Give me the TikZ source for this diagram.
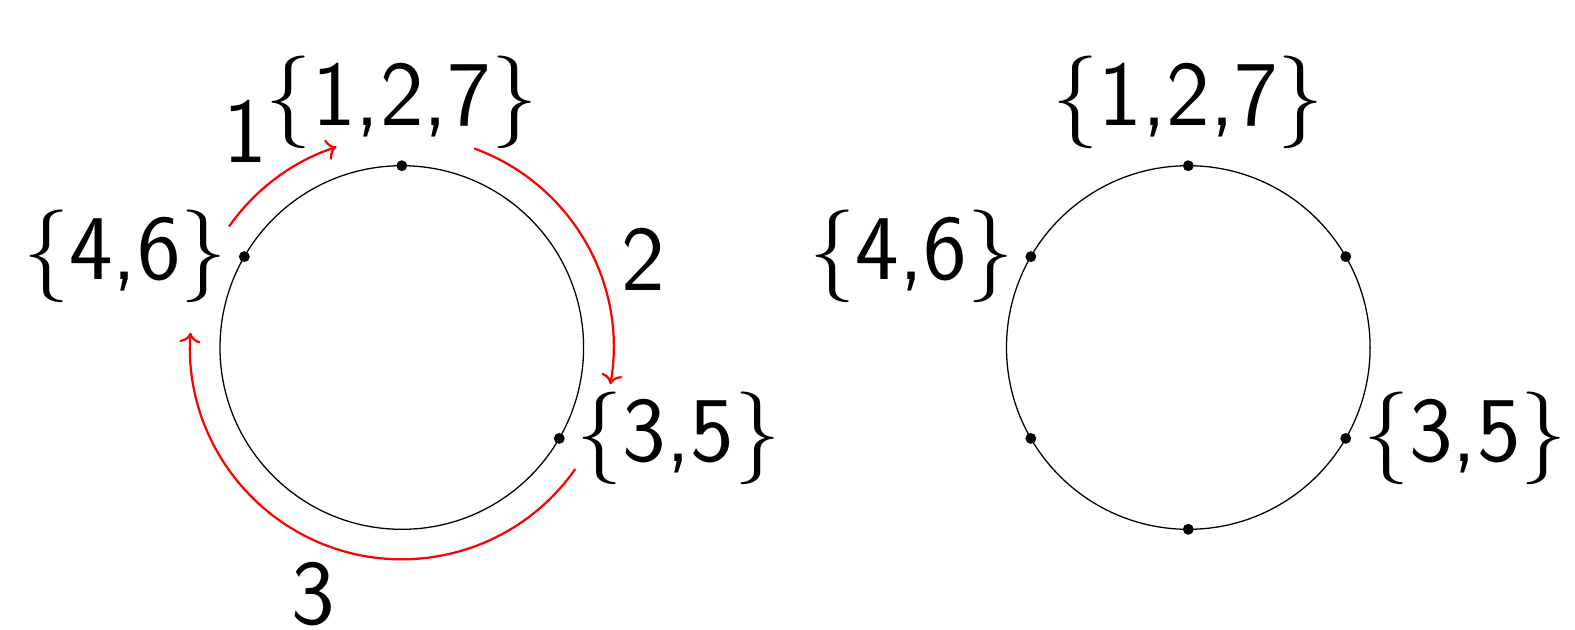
\documentclass[tikz,border=0pt]{standalone}
\usetikzlibrary{arrows.meta,positioning}

\begin{document}
\begin{tikzpicture}[
    vtx/.style={circle,fill,inner sep=0pt,minimum size=3.4pt},
    lab/.style={font=\sffamily\fontsize{29}{35}\selectfont},
    ring/.style={line width=0.4pt},
    arr/.style={->,red,line width=0.7pt}
]
\useasboundingbox (-4.42,-3.105) rectangle (12.906,3.823);

% left circle, with the moves
\draw[ring] (0,0) circle (2);
\node[vtx] (a127) at (90:2) {};
\node[vtx] (a46) at (150:2) {};
\node[vtx] (a35) at (-30:2) {};
\node[lab,above=0pt of a127] (ta127) {\{1,2,7\}};
\node[lab,left=0pt of a46] (ta46) {\{4,6\}};
\node[lab,right=0pt of a35] (ta35) {\{3,5\}};

\coordinate (m1) at (145:2.32);
\coordinate (m2) at (70:2.33);
\coordinate (m3) at (-35:2.33);
\draw[arr] (m1) arc[start angle=145,end angle=108,radius=2.32];
\draw[arr] (m2) arc[start angle=70,end angle=-10,radius=2.33];
\draw[arr] (m3) arc[start angle=-35,end angle=-184,radius=2.33];
\node[lab] (n1) at (-1.724,2.376) {1};
\node[lab] (n2) at (2.66,0.97) {2};
\node[lab,inner sep=0pt] (n3) at (-0.975,-2.71) {3};

% right circle
\begin{scope}[xshift=8.652cm]
\draw[ring] (0,0) circle (2);
\node[vtx] (b127) at (90:2) {};
\node[vtx] (b46) at (150:2) {};
\node[vtx] (b35) at (-30:2) {};
\node[vtx] (b30) at (30:2) {};
\node[vtx] (b210) at (210:2) {};
\node[vtx] (b270) at (270:2) {};
\node[lab,above=0pt of b127] (tb127) {\{1,2,7\}};
\node[lab,left=0pt of b46] (tb46) {\{4,6\}};
\node[lab,right=0pt of b35] (tb35) {\{3,5\}};
\end{scope}
\end{tikzpicture}
\end{document}
